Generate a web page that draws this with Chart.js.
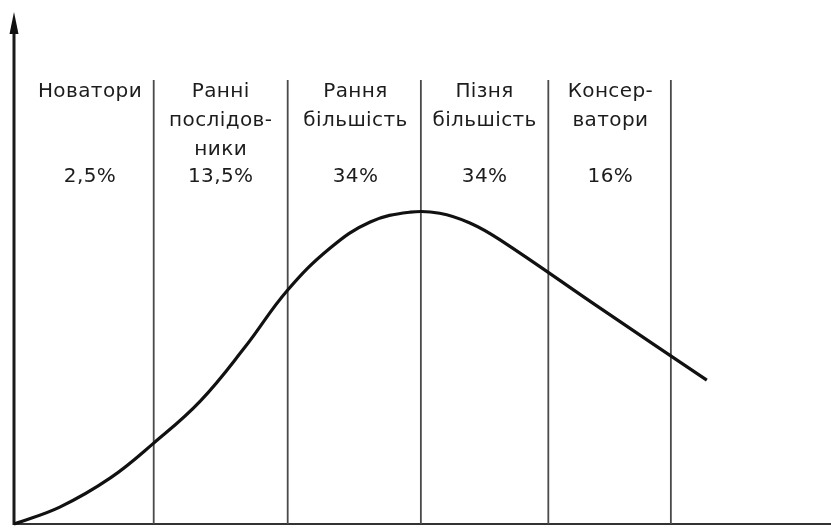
<!DOCTYPE html>
<html><head><meta charset="utf-8">
<script src="https://cdn.jsdelivr.net/npm/chart.js@4"></script>
<style>html,body{margin:0;padding:0;background:#fff}</style>
</head><body>
<canvas id="c" width="831" height="528"></canvas>
<script>
// Adoption curve (arbitrary units: x = time 0..100, y = number of adopters 0..100)
const curveX = [0, 5.6, 11.8, 17.1, 22.8, 28.3, 33.4, 38.7, 43.6, 48.5, 52.1, 55.8, 59.5, 71.7, 84.8];
const curveY = [0, 3.3, 9.0, 15.8, 24.0, 34.6, 45.5, 53.9, 59.0, 60.9, 60.7, 58.8, 55.5, 42.2, 28.1];
// Group boundaries on the time axis
const segmentBoundaries = [17.1, 33.5, 49.8, 65.4, 80.4];
const dividerTop = 86.7;
// Group labels
const groupNames = [
  ["Новатори"],
  ["Ранні", "послідов-", "ники"],
  ["Рання", "більшість"],
  ["Пізня", "більшість"],
  ["Консер-", "ватори"]
];
const groupShares = ["2,5%", "13,5%", "34%", "34%", "16%"];
const labelCenters = [9.3, 25.3, 41.8, 57.6, 73.0];

const datasets = [{
  data: curveX.map((x, i) => ({x, y: curveY[i]})),
  borderColor: '#111', borderWidth: 3.2, pointRadius: 0,
  tension: 0.4, showLine: true, clip: false, order: 0
}];
segmentBoundaries.forEach(b => datasets.push({
  data: [{x: b, y: 0}, {x: b, y: dividerTop}],
  borderColor: '#4a4a4a', borderWidth: 1.8, pointRadius: 0,
  showLine: true, clip: false, order: 1
}));

const decor = {
  id: 'decor',
  beforeDatasetsDraw(chart) {
    const {ctx} = chart;
    const xs = chart.scales.x, ys = chart.scales.y;
    const x0 = xs.getPixelForValue(0), y0 = ys.getPixelForValue(0);
    ctx.save();
    ctx.strokeStyle = '#333'; ctx.lineWidth = 2.2;
    ctx.beginPath(); ctx.moveTo(x0, y0); ctx.lineTo(xs.getPixelForValue(100), y0); ctx.stroke();
    ctx.strokeStyle = '#1a1a1a'; ctx.lineWidth = 3;
    const yTop = ys.getPixelForValue(100);
    ctx.beginPath(); ctx.moveTo(x0, y0 + 1); ctx.lineTo(x0, yTop + 14); ctx.stroke();
    ctx.fillStyle = '#111';
    ctx.beginPath(); ctx.moveTo(x0, yTop); ctx.lineTo(x0 - 4.5, yTop + 22); ctx.lineTo(x0 + 4.5, yTop + 22); ctx.closePath(); ctx.fill();
    ctx.restore();
  },
  afterDraw(chart) {
    const {ctx} = chart;
    const xs = chart.scales.x, ys = chart.scales.y;
    ctx.save();
    ctx.fillStyle = '#1c1c1c';
    ctx.font = '20px "DejaVu Sans", sans-serif';
    ctx.textAlign = 'center'; ctx.textBaseline = 'alphabetic';
    try { ctx.letterSpacing = '0.4px'; } catch (e) {}
    const firstBase = ys.getPixelForValue(83.4);
    const shareBase = ys.getPixelForValue(66.8);
    groupNames.forEach((lines, i) => {
      const cx = xs.getPixelForValue(labelCenters[i]);
      lines.forEach((t, j) => ctx.fillText(t, cx, firstBase + j * 29));
      ctx.fillText(groupShares[i], cx, shareBase);
    });
    ctx.restore();
  }
};

new Chart(document.getElementById('c'), {
  type: 'scatter',
  data: {datasets},
  options: {
    responsive: false, animation: false,
    layout: {padding: {left: 14, right: 0, top: 12, bottom: 4}},
    plugins: {legend: {display: false}, tooltip: {enabled: false}},
    scales: {
      x: {type: 'linear', min: 0, max: 100, display: false},
      y: {type: 'linear', min: 0, max: 100, display: false}
    }
  },
  plugins: [decor]
});
</script>
</body></html>
